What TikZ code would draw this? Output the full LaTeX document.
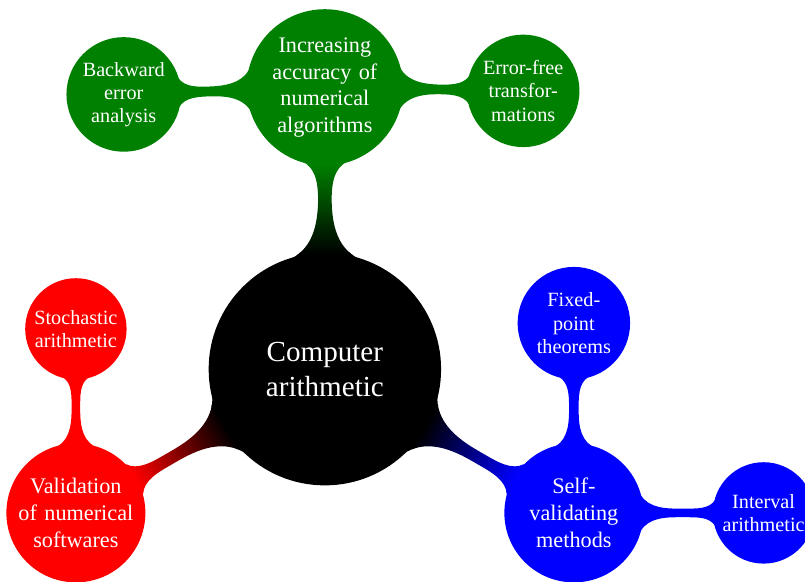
\documentclass[tikz,border=0pt]{standalone}
\usepackage{fontspec}
\setmainfont{Liberation Serif}
\usetikzlibrary{mindmap}

\begin{document}
\begin{tikzpicture}[mindmap,
  every node/.style={concept, inner sep=0pt, align=center},
  root concept/.append style={minimum size=4cm, text width=3.5cm, font=\fontsize{14.4}{17.2}\selectfont},
  level 1 concept/.append style={level distance=5cm, minimum size=2cm, text width=2.05cm, font=\fontsize{11}{13.2}\selectfont},
  level 2 concept/.append style={level distance=3.3cm, minimum size=1.5cm, text width=1.6cm, font=\fontsize{10}{11.5}\selectfont}]
\useasboundingbox (-5.65,-3.70) rectangle (8.35,6.42);
\path[concept color=black, text=white]
  node[root concept] (comp) {Computer\\arithmetic}
  child[concept color=green!50!black, grow=90, level distance=4.9cm] {
    node (accuracy) {Increasing\\accuracy of\\numerical\\algorithms}
    child[grow=182, level distance=3.5cm] {node (backward) {Backward\\error\\analysis}}
    child[grow=-1, level distance=3.45cm] {node (errfree) {Error-free\\transfor-\\mations}}
  }
  child[concept color=red, grow=210] {
    node (validation) {Validation\\of numerical\\softwares}
    child[grow=90, level distance=3.2cm] {node (stochastic) {Stochastic\\arithmetic}}
  }
  child[concept color=blue, grow=330] {
    node (selfval) {Self-\\validating\\methods}
    child[grow=90] {node (fixedpoint) {Fixed-\\point\\theorems}}
    child[grow=0] {node (interval) {Interval\\arithmetic}}
  };
\end{tikzpicture}
\end{document}
